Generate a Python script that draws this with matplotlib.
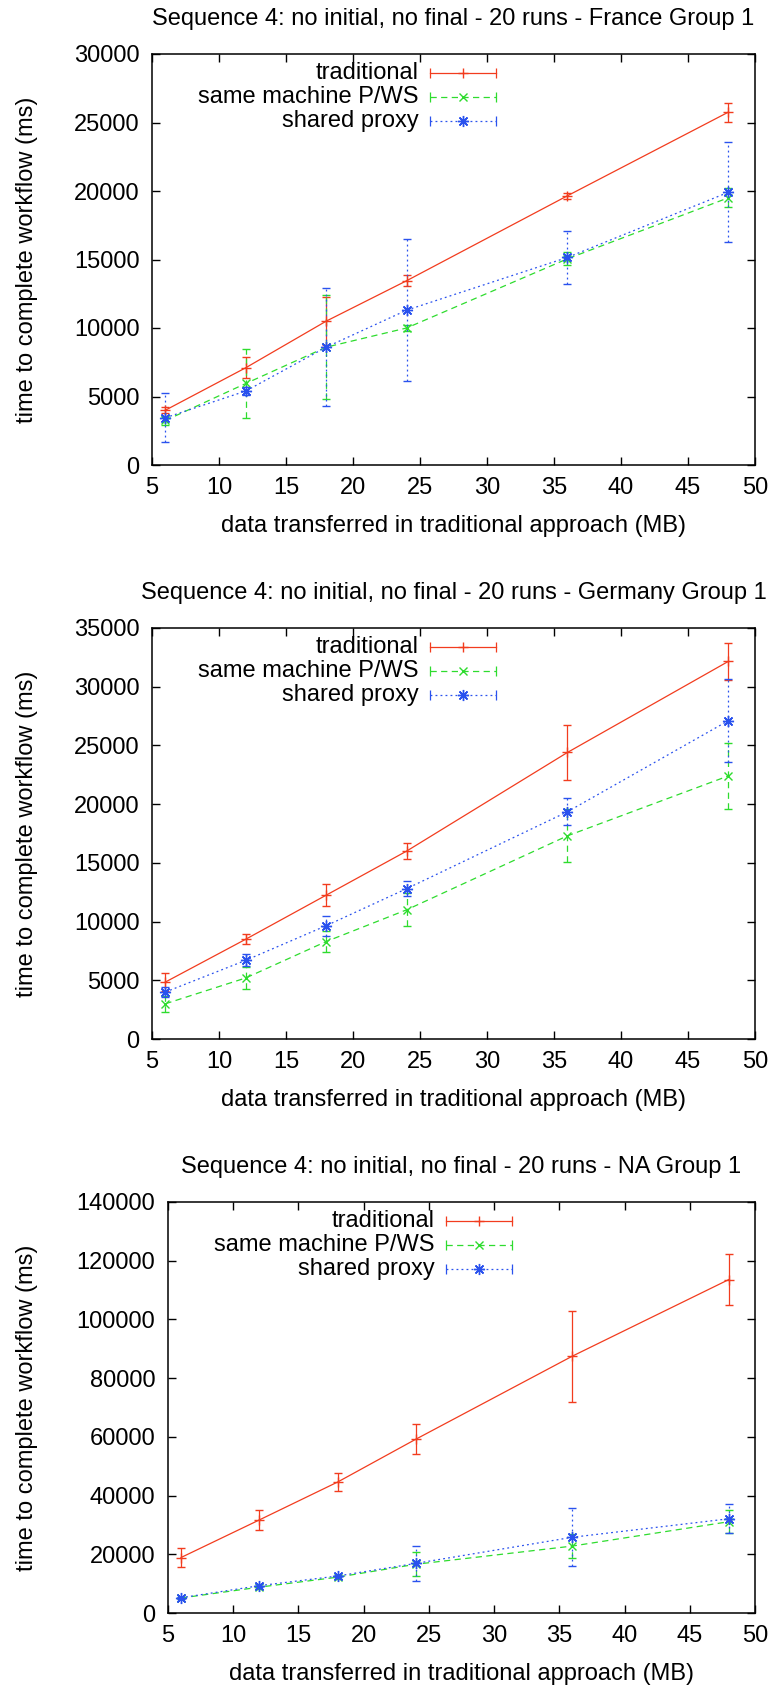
import matplotlib
matplotlib.use('Agg')
import matplotlib.pyplot as plt
from matplotlib.lines import Line2D

plt.rcParams['font.family'] = ['Liberation Sans', 'DejaVu Sans']
plt.rcParams['font.size'] = 17

# data size per run (MB)
x_mb = [6, 12, 18, 24, 36, 48]
labels = ['traditional', 'same machine P/WS', 'shared proxy']

# France Group 1 : mean time (ms) and spread
fr_trad = [4000, 7100, 10500, 13450, 19650, 25750]
fr_trad_err = [200, 750, 1750, 400, 200, 700]
fr_same = [3250, 5950, 8600, 10000, 15050, 19500]
fr_same_err = [350, 2550, 3800, 250, 480, 700]
fr_proxy = [3450, 5400, 8600, 11300, 15150, 19900]
fr_proxy_err = [1800, 300, 4300, 5200, 1950, 3650]

# Germany Group 1
de_trad = [4850, 8500, 12250, 16000, 24400, 32150]
de_trad_err = [750, 450, 950, 650, 2350, 1600]
de_same = [3000, 5200, 8300, 11000, 17300, 22400]
de_same_err = [700, 900, 900, 1400, 2250, 2800]
de_proxy = [4000, 6700, 9650, 12800, 19350, 27100]
de_proxy_err = [400, 500, 850, 650, 1150, 3550]

# NA Group 1
na_trad = [18900, 31700, 44600, 59200, 87500, 113600]
na_trad_err = [3400, 3300, 3000, 5200, 15500, 8600]
na_same = [5100, 8800, 12200, 16600, 22800, 31100]
na_same_err = [400, 500, 500, 4100, 4000, 3900]
na_proxy = [5200, 9300, 12600, 16900, 25800, 32100]
na_proxy_err = [300, 500, 500, 6000, 9800, 5000]

colors = ['#f23c1e', '#2edc2e', '#2a52ee']
styles = ['-', (0, (5, 3.5)), (0, (1.5, 2.5))]
markers = ['+', 'x', (8, 2, 0)]
msizes = [6.5, 6, 8]

W, H = 776, 1689
fig = plt.figure(figsize=(W / 100, H / 100), dpi=100)


def key(ax, row, label, i):
    # gnuplot style key: text right aligned, sample line with caps on the right
    pos = ax.get_position()
    aw = pos.width * W
    ah = pos.height * H
    y = 1 - (19 + 24 * row) / ah
    x0 = 278 / aw
    x1 = 344 / aw
    ax.text(x0 - 11 / aw, y, label, transform=ax.transAxes, ha='right', va='center')
    ax.add_line(Line2D([x0, x1], [y, y], transform=ax.transAxes, color=colors[i],
                       ls=styles[i], lw=0.9, clip_on=False))
    ax.add_line(Line2D([x0, x1], [y, y], transform=ax.transAxes, color=colors[i],
                       ls='none', marker='|', ms=7, mew=0.9, clip_on=False))
    ax.add_line(Line2D([(x0 + x1) / 2], [y], transform=ax.transAxes, color=colors[i],
                       ls='none', marker=markers[i], ms=msizes[i], mew=1, clip_on=False))


def panel(rect, title, series, errs, ymax, ystep):
    ax = fig.add_axes(rect)
    for i in range(3):
        eb = ax.errorbar(x_mb, series[i], yerr=errs[i], color=colors[i], ls=styles[i],
                         lw=0.9, marker=markers[i], ms=msizes[i], mew=1, capsize=3,
                         elinewidth=0.9, capthick=0.9)
        eb[2][0].set_linestyle(styles[i])
    ax.set_xlim(5, 50)
    ax.set_ylim(0, ymax)
    ax.set_xticks(range(5, 51, 5))
    ax.set_yticks(range(0, ymax + 1, ystep))
    ax.tick_params(direction='in', top=True, right=True, length=6, width=1, pad=9)
    for s in ax.spines.values():
        s.set_linewidth(1.1)
    ax.set_title(title, pad=21, fontsize=17)
    ax.set_xlabel('data transferred in traditional approach (MB)', labelpad=11)
    ax.set_ylabel('time to complete workflow (ms)')
    pos = ax.get_position()
    ax.yaxis.set_label_coords(-(pos.x0 * W - 38) / (pos.width * W), 0.5)
    for i in range(3):
        key(ax, i, labels[i], i)
    return ax


panel([152 / W, 1 - 465 / H, 603 / W, 411 / H],
      'Sequence 4: no initial, no final - 20 runs - France Group 1',
      [fr_trad, fr_same, fr_proxy], [fr_trad_err, fr_same_err, fr_proxy_err], 30000, 5000)
panel([152 / W, 1 - 1039 / H, 603 / W, 411 / H],
      'Sequence 4: no initial, no final - 20 runs - Germany Group 1',
      [de_trad, de_same, de_proxy], [de_trad_err, de_same_err, de_proxy_err], 35000, 5000)
panel([168 / W, 1 - 1613 / H, 587 / W, 411 / H],
      'Sequence 4: no initial, no final - 20 runs - NA Group 1',
      [na_trad, na_same, na_proxy], [na_trad_err, na_same_err, na_proxy_err], 140000, 20000)

fig.savefig('out.png', dpi=100)
